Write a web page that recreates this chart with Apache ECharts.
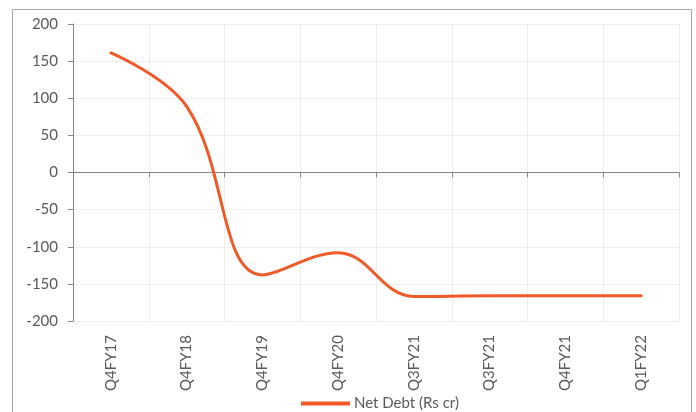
<!DOCTYPE html>
<html>
<head>
<meta charset="utf-8">
<script src="https://cdn.jsdelivr.net/npm/echarts@6/dist/echarts.min.js"></script>
<style>html,body{margin:0;padding:0;background:#fff;}#c{width:696px;height:412px;}</style>
</head>
<body>
<div id="c"></div>
<script>
var categories = ['Q4FY17', 'Q4FY18', 'Q4FY19', 'Q4FY20', 'Q3FY21', 'Q3FY21', 'Q4FY21', 'Q1FY22'];
var netDebt = [161, 89, -138, -108, -167, -166, -166, -166];
var yTicks = {min: -200, max: 200, step: 50};
var seriesName = 'Net Debt (Rs cr)';

var FONT = 'Lato';
var chart = echarts.init(document.getElementById('c'), null, {renderer: 'canvas'});
chart.setOption({
  animation: false,
  backgroundColor: '#fff',
  textStyle: {fontFamily: FONT},
  graphic: [{
    type: 'rect', shape: {x: 12.5, y: 9.5, width: 679, height: 420},
    style: {fill: 'none', stroke: '#a6a6a6', lineWidth: 1}, silent: true, z: -1
  }],
  grid: {left: 73, right: 17, top: 24, bottom: 91, containLabel: false},
  legend: {
    show: true, left: 296, top: 391, icon: 'rect', itemWidth: 49, itemHeight: 4, itemGap: 6,
    textStyle: {color: '#595959', fontSize: 15, fontFamily: FONT, padding: [0, 0, 0, -1]},
    data: [seriesName]
  },
  xAxis: [{
    type: 'category', data: categories, position: 'bottom', boundaryGap: true,
    axisLine: {show: false, onZero: false}, axisTick: {show: false},
    splitLine: {show: true, lineStyle: {color: '#ededed', width: 1}},
    axisLabel: {rotate: 90, margin: 14, color: '#595959', fontSize: 15, fontFamily: FONT, interval: 0}
  }, {
    type: 'category', data: categories, position: 'bottom', boundaryGap: true,
    axisLine: {show: true, onZero: true, lineStyle: {color: '#868686', width: 1}},
    axisTick: {show: true, length: 5, interval: 0, lineStyle: {color: '#868686'}},
    axisLabel: {show: false}, splitLine: {show: false}
  }],
  yAxis: {
    type: 'value', min: yTicks.min, max: yTicks.max, interval: yTicks.step,
    axisLine: {show: true, onZero: false, lineStyle: {color: '#868686', width: 1}},
    axisTick: {show: true, length: 5, lineStyle: {color: '#868686'}},
    splitLine: {show: true, lineStyle: {color: '#f0f0f0', width: 1}},
    axisLabel: {margin: 15, color: '#595959', fontSize: 15, fontFamily: FONT}
  },
  series: [{
    name: seriesName, type: 'line', data: netDebt, xAxisIndex: 0, smooth: 0.4,
    showSymbol: false, symbol: 'none',
    lineStyle: {color: '#F05A28', width: 3, cap: 'round'},
    itemStyle: {color: '#F05A28'}
  }]
});
</script>
</body>
</html>
